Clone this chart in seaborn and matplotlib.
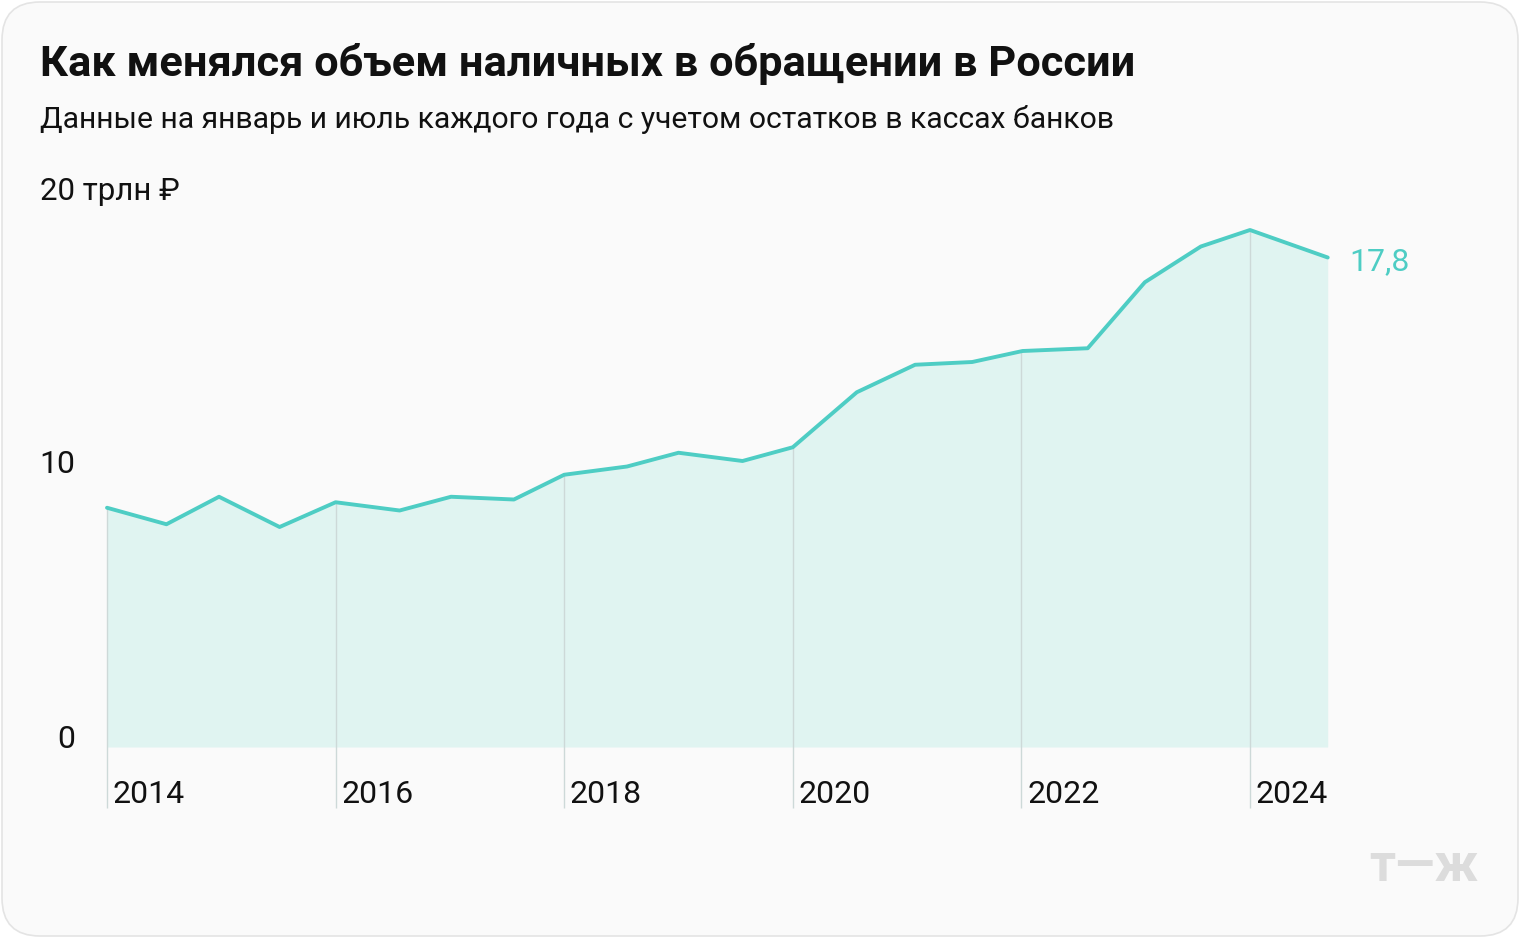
"""
Cash in circulation in Russia, January and July of each year.
"""

import matplotlib.pyplot as plt
import seaborn as sns
from matplotlib.patches import FancyBboxPatch


# -----------------------------------
# Data (trillion rubles)
# -----------------------------------

# fractional year of each observation (Jan / Jul points)
period = [
    2014.00, 2014.52, 2014.98, 2015.51, 2016.00, 2016.56,
    2017.01, 2017.56, 2018.00, 2018.55, 2019.00, 2019.56,
    2020.00, 2020.56, 2021.07, 2021.57, 2022.01, 2022.58,
    2023.08, 2023.57, 2024.00, 2024.68,
]

cash = [
    8.7, 8.1, 9.1, 8.0, 8.9, 8.6,
    9.1, 9.0, 9.9, 10.2, 10.7, 10.4,
    10.9, 12.9, 13.9, 14.0, 14.4, 14.5,
    16.9, 18.2, 18.8, 17.8,
]

year_labels = ["2014", "2016", "2018", "2020", "2022", "2024"]
year_ticks = [2014, 2016, 2018, 2020, 2022, 2024]

y_ticks = [0, 10, 20]
y_labels = ["0", "10", "20 трлн ₽"]

title = "Как менялся объем наличных в обращении в России"
subtitle = "Данные на январь и июль каждого года с учетом остатков в кассах банков"
last_label = "17,8"

LINE = "#4ecdc4"
FILL = "#e0f4f1"
GRID = "#cdd9d8"
TEXT = "#111111"

sns.set_theme(style="white")
plt.rcParams["font.family"] = ["Roboto", "DejaVu Sans"]

W, H = 1520, 938
fig = plt.figure(figsize=(W / 100, H / 100), dpi=100)
fig.patch.set_facecolor("white")

card = FancyBboxPatch(
    (2 / W, 2 / H), 1 - 4 / W, 1 - 4 / H,
    boxstyle="round,pad=0,rounding_size=0.025",
    transform=fig.transFigure,
    facecolor="#fafafa", edgecolor="#e4e4e4", linewidth=1.2,
    mutation_aspect=W / H, zorder=-10,
)
fig.patches.append(card)

# axes placed so that 2014 sits at x=107px and 0 at y=747px
px_year = 114.3
px_unit = 27.5
ax_l, ax_r, ax_t, ax_b = 80, 1500, 150, 830
ax = fig.add_axes([ax_l / W, 1 - ax_b / H, (ax_r - ax_l) / W, (ax_b - ax_t) / H])
ax.set_facecolor("none")
ax.set_xlim(2014 + (ax_l - 107) / px_year, 2014 + (ax_r - 107) / px_year)
ax.set_ylim((747 - ax_b) / px_unit, (747 - ax_t) / px_unit)
ax.axis("off")

ax.fill_between(period, 0, cash, color=FILL, linewidth=0, zorder=1)

# vertical year lines from below the axis up to the curve
for t in year_ticks:
    top = cash[period.index(min(period, key=lambda p: abs(p - t)))]
    ax.vlines(t, -2.2, top, color=GRID, linewidth=1, zorder=2)

sns.lineplot(x=period, y=cash, ax=ax, color=LINE, linewidth=2.8,
             zorder=3, legend=False)

ax.text(period[-1] + 0.19, cash[-1] - 0.15, last_label, color=LINE,
        fontsize=23, va="center", ha="left")

for t, lab in zip(year_ticks, year_labels):
    ax.text(t + 0.05, -1.73, lab, fontsize=23, color=TEXT,
            ha="left", va="center")

x_lab = 2014 + (75 - 107) / px_year
for v, lab in zip(y_ticks, y_labels):
    if v == 20:
        ax.text(2014 + (40 - 107) / px_year, v + 0.2, lab, fontsize=22.5,
                color=TEXT, ha="left", va="center")
    else:
        ax.text(x_lab, v + 0.27, lab, fontsize=23, color=TEXT,
                ha="right", va="center")

fig.text(40 / W, 1 - 64 / H, title, fontsize=31.2, fontweight="bold",
         color=TEXT, ha="left", va="center")
fig.text(40 / W, 1 - 120 / H, subtitle, fontsize=21.7, color=TEXT,
         ha="left", va="center")

fig.text(1478 / W, 1 - 867 / H, "т—ж", fontsize=37, fontweight="bold",
         color="#dcdcdc", ha="right", va="center")

plt.savefig("out.png", dpi=100, facecolor="white")
plt.close()
